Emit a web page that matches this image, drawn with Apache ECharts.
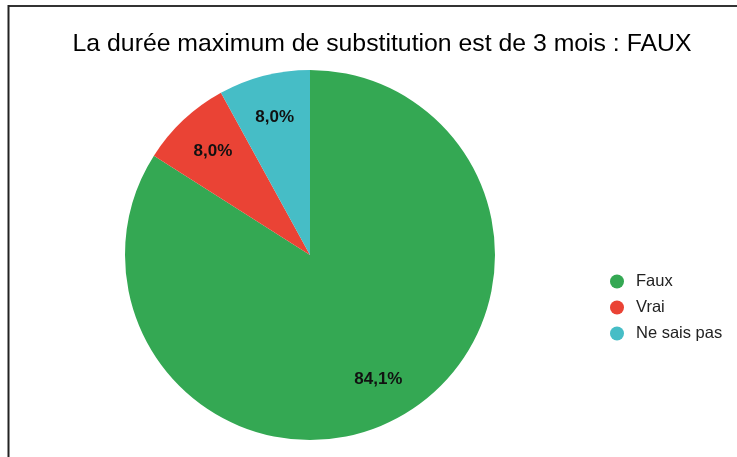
<!DOCTYPE html>
<html>
<head>
<meta charset="utf-8">
<script src="https://cdn.jsdelivr.net/npm/echarts@6/dist/echarts.min.js"></script>
<style>html,body{margin:0;padding:0;background:#fff;}#c{width:737px;height:457px;}</style>
</head>
<body>
<div id="c"></div>
<script>
const titleText = 'La durée maximum de substitution est de 3 mois : FAUX';
const categories = ['Faux', 'Vrai', 'Ne sais pas'];
const values = [84.1, 8.0, 8.0];
const colors = ['#34A853', '#EA4335', '#46BDC6'];

const chart = echarts.init(document.getElementById('c'), null, {renderer: 'canvas'});
const data = categories.map((n, i) => ({name: n, value: values[i], itemStyle: {color: colors[i]}}));
const fmt = p => p.value.toFixed(1).replace('.', ',') + '%';
chart.setOption({
  animation: false,
  backgroundColor: '#fff',
  title: {
    text: titleText, left: 377, top: 27, textAlign: 'center',
    textStyle: {fontFamily: 'Liberation Sans, Arial', fontSize: 24.8, fontWeight: 'normal', color: '#000'}
  },
  legend: {
    orient: 'vertical', left: 605, top: 268, itemGap: 9,
    icon: 'circle', itemWidth: 14, itemHeight: 14,
    textStyle: {fontFamily: 'Liberation Sans, Arial', fontSize: 16.5, color: '#222', padding: [0, 0, 0, 7]},
    data: categories
  },
  graphic: [
    {type: 'line', shape: {x1: 8, y1: 6, x2: 737, y2: 6}, style: {stroke: '#333', lineWidth: 2}},
    {type: 'line', shape: {x1: 8.5, y1: 5, x2: 8.5, y2: 457}, style: {stroke: '#222', lineWidth: 2}}
  ],
  series: [
    {
      type: 'pie', center: [310, 255], radius: [0, 185], startAngle: 90, clockwise: true,
      label: {show: false}, labelLine: {show: false},
      itemStyle: {borderWidth: 0},
      emphasis: {disabled: true},
      data: data
    },
    {
      type: 'pie', center: [310, 255], radius: [93, 185], startAngle: 90, clockwise: true, silent: true,
      itemStyle: {color: 'rgba(0,0,0,0)', borderWidth: 0},
      label: {show: true, position: 'inside', formatter: fmt,
        fontFamily: 'Liberation Sans, Arial', fontSize: 17, fontWeight: 'bold', color: '#111'},
      labelLine: {show: false},
      emphasis: {disabled: true},
      data: categories.map((n, i) => ({name: n, value: values[i]}))
    }
  ]
});
</script>
</body>
</html>
